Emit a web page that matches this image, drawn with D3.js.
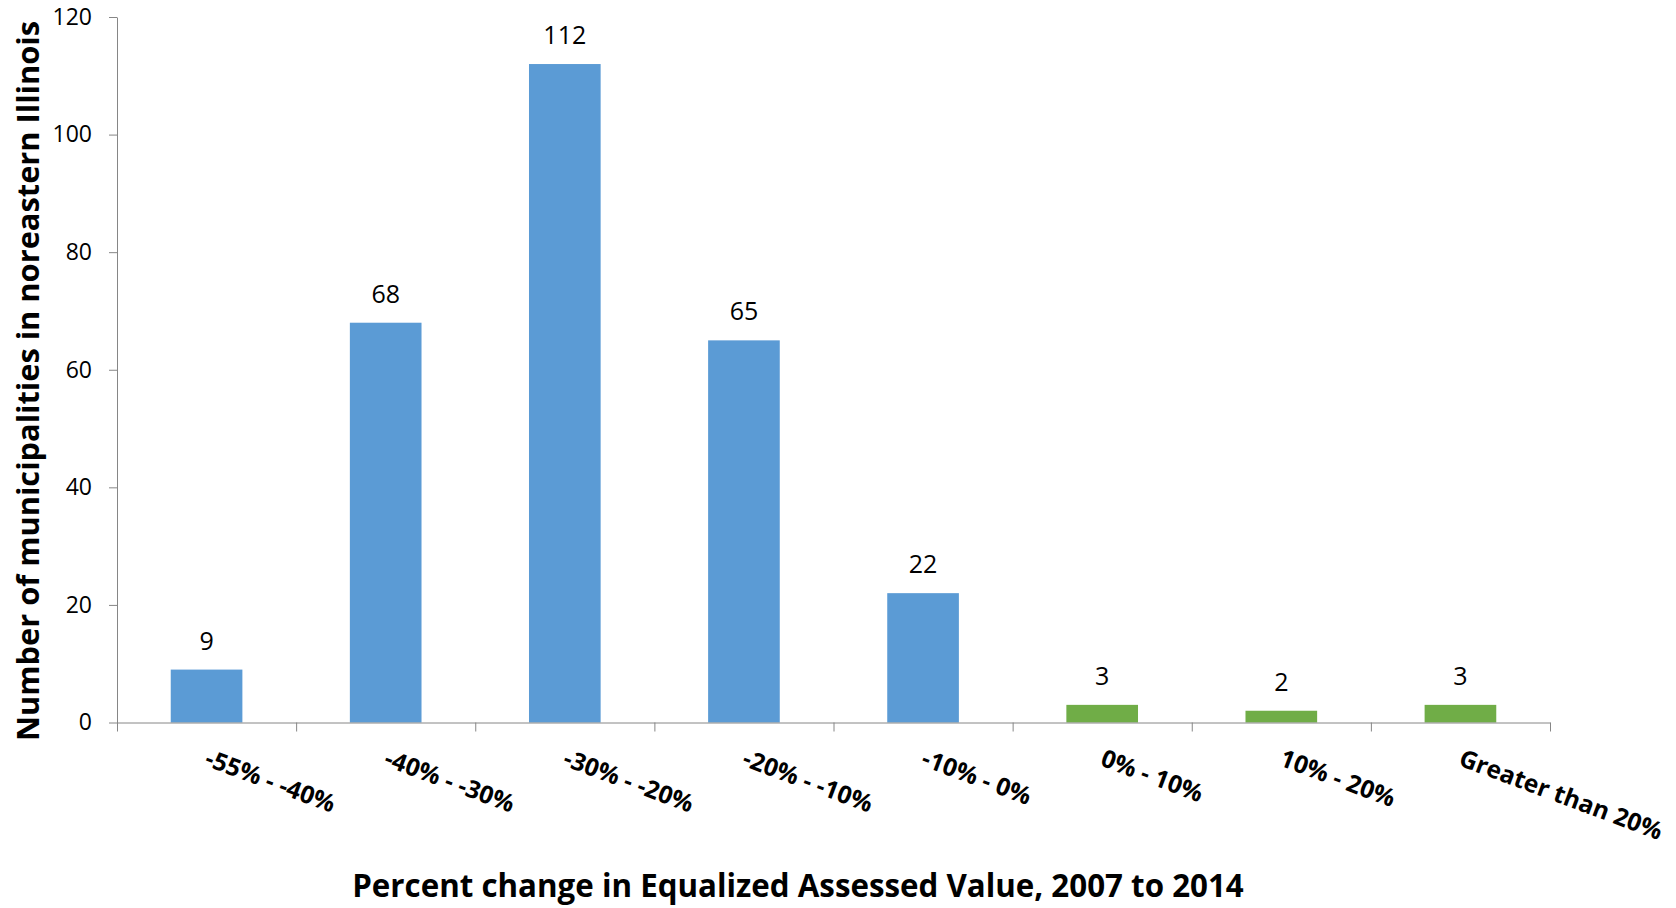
<!DOCTYPE html>
<html>
<head>
<meta charset="utf-8">
<script src="https://cdn.jsdelivr.net/npm/d3@7"></script>
<style>
  body { margin: 0; background: #fff; }
  svg { font-family: "Open Sans", Lato, sans-serif; }
  .axis path, .axis line { stroke: #868686; }
</style>
</head>
<body>
<script>
// Chart data
var categories = ["-55% - -40%", "-40% - -30%", "-30% - -20%", "-20% - -10%",
                  "-10% - 0%", "0% - 10%", "10% - 20%", "Greater than 20%"];
var counts = [9, 68, 112, 65, 22, 3, 2, 3];
var barColors = ["#5B9BD5", "#5B9BD5", "#5B9BD5", "#5B9BD5", "#5B9BD5",
                 "#70AD47", "#70AD47", "#70AD47"];
var yTicks = [0, 20, 40, 60, 80, 100, 120];

var svgWidth = 1676;
var svgHeight = 908;

// plot area edges
var plot = { left: 117, right: 1550, top: 17, bottom: 722.5 };

var svg = d3.select("body")
  .append("svg")
  .attr("width", svgWidth)
  .attr("height", svgHeight);

var xBand = d3.scaleBand()
  .domain(categories)
  .range([plot.left, plot.right])
  .paddingInner(0.6)
  .paddingOuter(0.3);

// linear scale for the category boundaries (tick marks)
var xEdge = d3.scaleLinear()
  .domain([0, categories.length])
  .range([plot.left, plot.right]);

var yScale = d3.scaleLinear()
  .domain([0, 120])
  .range([plot.bottom, plot.top]);

// bars
svg.selectAll(".bar")
  .data(counts)
  .enter()
  .append("rect")
  .attr("class", "bar")
  .attr("x", (d, i) => xBand(categories[i]))
  .attr("width", xBand.bandwidth())
  .attr("y", d => yScale(d))
  .attr("height", d => yScale(0) - yScale(d))
  .attr("fill", (d, i) => barColors[i]);

// value labels
svg.selectAll(".val")
  .data(counts)
  .enter()
  .append("text")
  .attr("class", "val")
  .attr("x", (d, i) => xBand(categories[i]) + xBand.bandwidth() / 2)
  .attr("y", d => yScale(d) - 20)
  .attr("text-anchor", "middle")
  .attr("font-size", 25)
  .attr("fill", "#000")
  .text(d => d);

// y axis
var leftAxis = d3.axisLeft(yScale)
  .tickValues(yTicks)
  .tickSize(8)
  .tickPadding(17)
  .tickSizeOuter(0);

var yAxisG = svg.append("g")
  .attr("class", "axis")
  .attr("transform", `translate(${plot.left},0)`)
  .call(leftAxis);
yAxisG.selectAll("text")
  .attr("font-size", 23)
  .attr("font-family", "'Open Sans', sans-serif")
  .attr("fill", "#000");

// x axis, ticks on the category edges
var bottomAxis = d3.axisBottom(xEdge)
  .tickValues(d3.range(0, categories.length + 1))
  .tickSize(9)
  .tickSizeOuter(0)
  .tickFormat("");

svg.append("g")
  .attr("class", "axis")
  .attr("transform", `translate(0,${plot.bottom})`)
  .call(bottomAxis);

// rotated category labels
svg.selectAll(".cat")
  .data(categories)
  .enter()
  .append("text")
  .attr("class", "cat")
  .attr("transform", d => `translate(${xBand(d) + xBand.bandwidth() / 2 - 3},765) rotate(20.5)`)
  .attr("font-size", 24.5)
  .attr("font-weight", "bold")
  .attr("fill", "#000")
  .text(d => d);

// axis titles
svg.append("text")
  .attr("x", 798)
  .attr("y", 897)
  .attr("text-anchor", "middle")
  .attr("font-size", 31.3)
  .attr("font-weight", "bold")
  .text("Percent change in Equalized Assessed Value, 2007 to 2014");

svg.append("text")
  .attr("transform", "translate(39,381) rotate(-90)")
  .attr("text-anchor", "middle")
  .attr("font-size", 30.8)
  .attr("font-weight", "bold")
  .text("Number of municipalities in noreastern Illinois");
</script>
</body>
</html>
